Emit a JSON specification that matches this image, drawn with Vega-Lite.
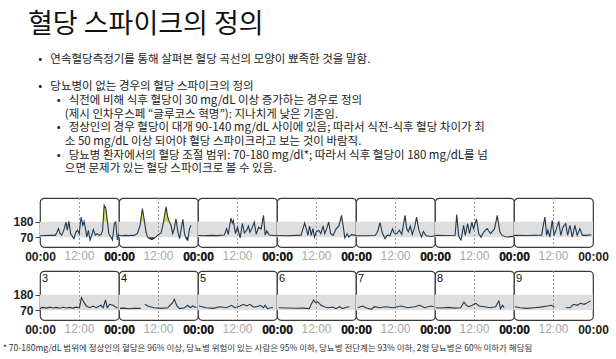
{
  "$schema": "https://vega.github.io/schema/vega-lite/v6.json",
  "background": "white",
  "padding": {"left": 3, "top": 10, "right": 5, "bottom": 5},
  "autosize": {"type": "pad"},
  "config": {
    "view": {"stroke": "#3a3a3a", "strokeWidth": 1.2, "cornerRadius": 4, "fill": "white"},
    "font": "Liberation Sans",
    "header": {"labels": false, "title": null, "labelPadding": 0, "titlePadding": 0}
  },
  "title": {
    "text": "혈당 스파이크의 정의",
    "subtitle": [
      "\u200b\u2002\u2009\u2009•\u2002\u2009연속혈당측정기를 통해 살펴본 혈당 곡선의 모양이 뾰족한 것을 말함.",
      "\u200b",
      "\u200b\u2002\u2009\u2009•\u2002\u2009당뇨병이 없는 경우의 혈당 스파이크의 정의",
      "\u200b\u2003\u2003\u2002•\u2002\u2009식전에 비해 식후 혈당이 30 mg/dL 이상 증가하는 경우로 정의",
      "\u200b\u2003\u2003\u2003\u2009(제시 인차우스페 \u201c글루코스 혁명\u201d): 지나치게 낮은 기준임.",
      "\u200b\u2003\u2003\u2002•\u2002\u2009정상인의 경우 혈당이 대개 90-140 mg/dL 사이에 있음; 따라서 식전-식후 혈당 차이가 최",
      "\u200b\u2003\u2003\u2003\u2009소 50 mg/dL 이상 되어야 혈당 스파이크라고 보는 것이 바람직.",
      "\u200b\u2003\u2003\u2002•\u2002\u2009당뇨병 환자에서의 혈당 조절 범위: 70-180 mg/dl*; 따라서 식후 혈당이 180 mg/dL를 넘",
      "\u200b\u2003\u2003\u2003\u2009으면 문제가 있는 혈당 스파이크로 볼 수 있음."
    ],
    "anchor": "start",
    "frame": "group",
    "dx": -12,
    "font": "Noto Sans CJK KR",
    "fontSize": 27,
    "fontWeight": "normal",
    "color": "#111111",
    "subtitleFont": "Noto Sans CJK KR",
    "subtitleFontSize": 11.5,
    "subtitleColor": "#222222",
    "subtitleLineHeight": 13.7,
    "subtitlePadding": 15,
    "offset": 21
  },
  "datasets": {
    "r1": [
      {"p":1,"h":0,"g":80},{"p":1,"h":1.5,"g":82},{"p":1,"h":3,"g":84},{"p":1,"h":4.6,"g":83},{"p":1,"h":5.1,"g":102},{"p":1,"h":5.6,"g":131},{"p":1,"h":6.1,"g":95},{"p":1,"h":6.6,"g":85},{"p":1,"h":7.3,"g":126},{"p":1,"h":7.9,"g":178},{"p":1,"h":8.3,"g":120},{"p":1,"h":8.8,"g":183},{"p":1,"h":9.3,"g":95},{"p":1,"h":9.8,"g":79},{"p":1,"h":10.3,"g":59},{"p":1,"h":10.9,"g":107},{"p":1,"h":11.4,"g":120},{"p":1,"h":11.9,"g":95},{"p":1,"h":12.5,"g":214},{"p":1,"h":13,"g":155},{"p":1,"h":13.4,"g":183},{"p":1,"h":13.9,"g":120},{"p":1,"h":14.2,"g":71},{"p":1,"h":14.7,"g":119},{"p":1,"h":15.2,"g":50},{"p":1,"h":15.7,"g":83},{"p":1,"h":16.2,"g":124},{"p":1,"h":16.8,"g":85},{"p":1,"h":17.4,"g":95},{"p":1,"h":18,"g":85},{"p":1,"h":18.5,"g":88},{"p":1,"h":19,"g":115},{"p":1,"h":19.5,"g":298},{"p":1,"h":20,"g":278},{"p":1,"h":20.5,"g":178},{"p":1,"h":20.9,"g":95},{"p":1,"h":21.5,"g":71},{"p":1,"h":22,"g":50},{"p":1,"h":22.6,"g":167},{"p":1,"h":23,"g":178},{"p":1,"h":23.5,"g":50},{"p":1,"h":23.9,"g":95},
      {"p":2,"h":0,"g":82},{"p":2,"h":1,"g":80},{"p":2,"h":2,"g":83},{"p":2,"h":3,"g":81},{"p":2,"h":4,"g":84},{"p":2,"h":4.6,"g":83},{"p":2,"h":5.6,"g":97},{"p":2,"h":6.4,"g":155},{"p":2,"h":7.1,"g":274},{"p":2,"h":7.7,"g":190},{"p":2,"h":8.2,"g":107},{"p":2,"h":8.7,"g":71},{"p":2,"h":9.4,"g":59},{"p":2,"h":10,"g":52},{"p":2,"h":10.7,"g":62},{"p":2,"h":11.7,"g":83},{"p":2,"h":12.8,"g":100},{"p":2,"h":13.5,"g":178},{"p":2,"h":14.3,"g":286},{"p":2,"h":14.8,"g":214},{"p":2,"h":15.3,"g":178},{"p":2,"h":15.8,"g":155},{"p":2,"h":16.3,"g":95},{"p":2,"h":16.8,"g":130},{"p":2,"h":17.3,"g":202},{"p":2,"h":17.9,"g":107},{"p":2,"h":18.4,"g":59},{"p":2,"h":18.9,"g":130},{"p":2,"h":19.4,"g":197},{"p":2,"h":19.9,"g":95},{"p":2,"h":20.4,"g":59},{"p":2,"h":20.9,"g":47},{"p":2,"h":21.4,"g":130},{"p":2,"h":21.9,"g":155},
      {"p":3,"h":0,"g":82},{"p":3,"h":2,"g":80},{"p":3,"h":4,"g":83},{"p":3,"h":6,"g":81},{"p":3,"h":8,"g":85},{"p":3,"h":8.7,"g":131},{"p":3,"h":9.2,"g":90},{"p":3,"h":10,"g":207},{"p":3,"h":10.4,"g":170},{"p":3,"h":10.7,"g":190},{"p":3,"h":11.4,"g":95},{"p":3,"h":12,"g":140},{"p":3,"h":12.8,"g":65},{"p":3,"h":13.5,"g":168},{"p":3,"h":14.1,"g":100},{"p":3,"h":14.8,"g":120},{"p":3,"h":15.3,"g":150},{"p":3,"h":15.8,"g":105},{"p":3,"h":16.5,"g":140},{"p":3,"h":17.1,"g":178},{"p":3,"h":17.7,"g":90},{"p":3,"h":18.4,"g":140},{"p":3,"h":19.2,"g":130},{"p":3,"h":19.9,"g":226},{"p":3,"h":20.4,"g":85},{"p":3,"h":20.9,"g":115},{"p":3,"h":21.6,"g":85},{"p":3,"h":23,"g":82},{"p":3,"h":24,"g":80},
      {"p":4,"h":0,"g":82},{"p":4,"h":3,"g":80},{"p":4,"h":6,"g":83},{"p":4,"h":7.3,"g":84},{"p":4,"h":7.9,"g":131},{"p":4,"h":8.4,"g":171},{"p":4,"h":8.9,"g":131},{"p":4,"h":9.4,"g":83},{"p":4,"h":9.9,"g":150},{"p":4,"h":10.4,"g":83},{"p":4,"h":10.9,"g":131},{"p":4,"h":11.4,"g":71},{"p":4,"h":11.9,"g":107},{"p":4,"h":12.7,"g":119},{"p":4,"h":13.3,"g":95},{"p":4,"h":14,"g":150},{"p":4,"h":14.5,"g":95},{"p":4,"h":15.1,"g":131},{"p":4,"h":15.7,"g":178},{"p":4,"h":16.3,"g":95},{"p":4,"h":17,"g":83},{"p":4,"h":18,"g":131},{"p":4,"h":18.8,"g":150},{"p":4,"h":19.6,"g":226},{"p":4,"h":20.1,"g":150},{"p":4,"h":20.6,"g":65},{"p":4,"h":21.3,"g":94},{"p":4,"h":21.8,"g":71},{"p":4,"h":22.6,"g":88},{"p":4,"h":24,"g":83},
      {"p":5,"h":0,"g":80},{"p":5,"h":3.2,"g":80},{"p":5,"h":5.8,"g":82},{"p":5,"h":6.6,"g":110},{"p":5,"h":7.3,"g":175},{"p":5,"h":8,"g":100},{"p":5,"h":8.8,"g":60},{"p":5,"h":9.5,"g":85},{"p":5,"h":10.3,"g":80},{"p":5,"h":11.1,"g":130},{"p":5,"h":11.6,"g":100},{"p":5,"h":12.4,"g":95},{"p":5,"h":13.2,"g":120},{"p":5,"h":13.9,"g":90},{"p":5,"h":14.9,"g":226},{"p":5,"h":15.4,"g":130},{"p":5,"h":15.9,"g":110},{"p":5,"h":16.5,"g":150},{"p":5,"h":17.1,"g":90},{"p":5,"h":17.8,"g":140},{"p":5,"h":18.4,"g":214},{"p":5,"h":19.1,"g":120},{"p":5,"h":19.9,"g":70},{"p":5,"h":20.5,"g":110},{"p":5,"h":21.3,"g":80},{"p":5,"h":23,"g":75},{"p":5,"h":24,"g":80},
      {"p":6,"h":0,"g":83},{"p":6,"h":3,"g":82},{"p":6,"h":6.1,"g":84},{"p":6,"h":6.6,"g":231},{"p":6,"h":7.2,"g":76},{"p":6,"h":7.9,"g":50},{"p":6,"h":8.7,"g":155},{"p":6,"h":9.2,"g":83},{"p":6,"h":9.9,"g":167},{"p":6,"h":10.5,"g":95},{"p":6,"h":11.2,"g":178},{"p":6,"h":11.7,"g":131},{"p":6,"h":12.6,"g":200},{"p":6,"h":13.3,"g":95},{"p":6,"h":14,"g":71},{"p":6,"h":14.8,"g":107},{"p":6,"h":15.8,"g":131},{"p":6,"h":16.9,"g":95},{"p":6,"h":18.1,"g":131},{"p":6,"h":18.9,"g":226},{"p":6,"h":19.7,"g":107},{"p":6,"h":20.4,"g":83},{"p":6,"h":21.5,"g":71},{"p":6,"h":24,"g":76},
      {"p":7,"h":0,"g":83},{"p":7,"h":4,"g":82},{"p":7,"h":8.4,"g":85},{"p":7,"h":8.9,"g":155},{"p":7,"h":9.4,"g":214},{"p":7,"h":9.9,"g":83},{"p":7,"h":10.3,"g":120},{"p":7,"h":10.9,"g":71},{"p":7,"h":11.6,"g":190},{"p":7,"h":12.2,"g":83},{"p":7,"h":12.9,"g":131},{"p":7,"h":13.6,"g":183},{"p":7,"h":14.2,"g":83},{"p":7,"h":14.9,"g":143},{"p":7,"h":15.7,"g":167},{"p":7,"h":16.3,"g":83},{"p":7,"h":17,"g":155},{"p":7,"h":17.7,"g":71},{"p":7,"h":18.5,"g":155},{"p":7,"h":19.2,"g":83},{"p":7,"h":20,"g":131},{"p":7,"h":20.8,"g":83},{"p":7,"h":22,"g":83},{"p":7,"h":23.5,"g":88},
      {"p":1,"h":12.33,"hi":180},{"p":1,"h":12.5,"hi":214},{"p":1,"h":12.79,"hi":180},{"p":1,"h":19.18,"hi":180},{"p":1,"h":19.5,"hi":298},{"p":1,"h":20,"hi":278},{"p":1,"h":20.49,"hi":180},
      {"p":2,"h":6.55,"hi":180},{"p":2,"h":7.1,"hi":274},{"p":2,"h":7.7,"hi":190},{"p":2,"h":7.76,"hi":180},{"p":2,"h":13.51,"hi":180},{"p":2,"h":14.3,"hi":286},{"p":2,"h":14.8,"hi":214},{"p":2,"h":15.27,"hi":180},
      {"p":4,"h":19.11,"hi":180},{"p":4,"h":19.6,"hi":226},{"p":4,"h":19.9,"hi":180},
      {"p":5,"h":14.56,"hi":180},{"p":5,"h":14.9,"hi":226},{"p":5,"h":15.14,"hi":180},
      {"p":6,"h":18.51,"hi":180},{"p":6,"h":18.9,"hi":226},{"p":6,"h":19.21,"hi":180},
      {"p":2,"h":8.76,"lo":70},{"p":2,"h":9.4,"lo":59},{"p":2,"h":10,"lo":52},{"p":2,"h":10.7,"lo":62},{"p":2,"h":11.08,"lo":70},{"p":2,"h":20.25,"lo":70},{"p":2,"h":20.4,"lo":59},{"p":2,"h":20.9,"lo":47},{"p":2,"h":21.04,"lo":70}
    ],
    "r2": [
      {"p":8,"h":0,"g":76},{"p":8,"h":0.3,"g":88},{"p":8,"h":1,"g":90},{"p":8,"h":2,"g":85},{"p":8,"h":3,"g":92},{"p":8,"h":4,"g":86},{"p":8,"h":5,"g":90},{"p":8,"h":6,"g":84},{"p":8,"h":7,"g":91},{"p":8,"h":8,"g":86},{"p":8,"h":9,"g":90},{"p":8,"h":10,"g":85},{"p":8,"h":11,"g":92},{"p":8,"h":12,"g":88},{"p":8,"h":12.6,"g":160},{"p":8,"h":13.4,"g":124},{"p":8,"h":14.1,"g":100},{"p":8,"h":15.1,"g":88},{"p":8,"h":16.1,"g":100},{"p":8,"h":17.1,"g":88},{"p":8,"h":18.5,"g":105},{"p":8,"h":19.2,"g":88},{"p":8,"h":19.9,"g":143},{"p":8,"h":20.4,"g":88},{"p":8,"h":21.2,"g":112},{"p":8,"h":22.2,"g":105},{"p":8,"h":23.3,"g":88},{"p":8,"h":23.6,"g":86},
      {"p":9,"h":0.3,"g":83},{"p":9,"h":1.5,"g":85},{"p":9,"h":3,"g":80},{"p":9,"h":4.5,"g":84},{"p":9,"h":6.6,"g":83},{"p":9,"h":7.2,"g":null},{"p":9,"h":7.9,"g":112},{"p":9,"h":8.7,"g":100},{"p":9,"h":10.7,"g":88},{"p":9,"h":12.8,"g":83},{"p":9,"h":14.8,"g":88},{"p":9,"h":16.3,"g":124},{"p":9,"h":16.8,"g":148},{"p":9,"h":17.6,"g":100},{"p":9,"h":18.4,"g":81},{"p":9,"h":19.9,"g":88},{"p":9,"h":20.9,"g":105},{"p":9,"h":21.7,"g":88},{"p":9,"h":22.4,"g":100},{"p":9,"h":23.5,"g":88},
      {"p":10,"h":0.3,"g":100},{"p":10,"h":2.5,"g":88},{"p":10,"h":4.6,"g":83},{"p":10,"h":6.6,"g":95},{"p":10,"h":8.7,"g":88},{"p":10,"h":10.2,"g":105},{"p":10,"h":11.2,"g":88},{"p":10,"h":12.8,"g":100},{"p":10,"h":13.8,"g":112},{"p":10,"h":14.8,"g":100},{"p":10,"h":15.8,"g":112},{"p":10,"h":16.8,"g":93},{"p":10,"h":17.9,"g":95},{"p":10,"h":18.9,"g":105},{"p":10,"h":19.9,"g":88},{"p":10,"h":20.4,"g":105},{"p":10,"h":21.1,"g":81},{"p":10,"h":22,"g":88},{"p":10,"h":22.8,"g":88},
      {"p":11,"h":0.5,"g":88},{"p":11,"h":3,"g":86},{"p":11,"h":6,"g":84},{"p":11,"h":8,"g":85},{"p":11,"h":9.8,"g":81},{"p":11,"h":10.4,"g":112},{"p":11,"h":11.1,"g":143},{"p":11,"h":11.7,"g":124},{"p":11,"h":12.4,"g":129},{"p":11,"h":13.4,"g":105},{"p":11,"h":14.4,"g":95},{"p":11,"h":15.4,"g":88},{"p":11,"h":16.9,"g":92},{"p":11,"h":17.9,"g":81},{"p":11,"h":19,"g":95},{"p":11,"h":20,"g":81},{"p":11,"h":21,"g":91},{"p":11,"h":22,"g":95},
      {"p":12,"h":0.5,"g":88},{"p":12,"h":2,"g":100},{"p":12,"h":3,"g":88},{"p":12,"h":4.6,"g":76},{"p":12,"h":5.6,"g":95},{"p":12,"h":7.1,"g":88},{"p":12,"h":9.1,"g":95},{"p":12,"h":11.2,"g":88},{"p":12,"h":13.7,"g":100},{"p":12,"h":15.7,"g":88},{"p":12,"h":17.8,"g":95},{"p":12,"h":19.3,"g":105},{"p":12,"h":20.8,"g":88},{"p":12,"h":22.8,"g":100},{"p":12,"h":23.6,"g":95},
      {"p":13,"h":0.2,"g":88},{"p":13,"h":2,"g":86},{"p":13,"h":4,"g":90},{"p":13,"h":6,"g":85},{"p":13,"h":7.8,"g":88},{"p":13,"h":8.8,"g":129},{"p":13,"h":9.5,"g":105},{"p":13,"h":10.3,"g":95},{"p":13,"h":11.3,"g":105},{"p":13,"h":12.4,"g":119},{"p":13,"h":13.4,"g":100},{"p":13,"h":14.9,"g":95},{"p":13,"h":16.9,"g":88},{"p":13,"h":18.4,"g":95},{"p":13,"h":19.4,"g":136},{"p":13,"h":19.9,"g":81},{"p":13,"h":20.5,"g":105},{"p":13,"h":21,"g":88},
      {"p":14,"h":0.2,"g":95},{"p":14,"h":1.8,"g":88},{"p":14,"h":3.9,"g":83},{"p":14,"h":6,"g":88},{"p":14,"h":8.1,"g":92},{"p":14,"h":10.2,"g":100},{"p":14,"h":11.2,"g":105},{"p":14,"h":12.3,"g":95},{"p":14,"h":14,"g":null},{"p":14,"h":15.7,"g":88},{"p":14,"h":17,"g":88},{"p":14,"h":18.1,"g":112},{"p":14,"h":19.2,"g":105},{"p":14,"h":20.2,"g":119},{"p":14,"h":21.3,"g":112},{"p":14,"h":22.3,"g":124},{"p":14,"h":23.2,"g":136},
      {"p":8,"lab":"3"},{"p":9,"lab":"4"},{"p":10,"lab":"5"},{"p":11,"lab":"6"},{"p":12,"lab":"7"},{"p":13,"lab":"8"},{"p":14,"lab":"9"}
    ]
  },
  "vconcat": [
    {
      "data": {"name": "r1"},
      "facet": {"column": {"field": "p", "type": "ordinal", "header": {"labels": false, "title": null, "labelPadding": 0, "titlePadding": 0}}},
      "spacing": 0,
      "bounds": "flush",
      "spec": {
        "width": 79,
        "height": 49,
        "layer": [
          {
            "transform": [{"aggregate": [{"op": "count", "as": "n"}], "groupby": ["p"]}],
            "mark": {"type": "rect", "color": "#dedede"},
            "encoding": {"y": {"datum": 70, "type": "quantitative"}, "y2": {"datum": 180}}
          },
          {
            "transform": [{"aggregate": [{"op": "count", "as": "n"}], "groupby": ["p"]}],
            "mark": {"type": "rule", "color": "#9a9a9a", "strokeDash": [2, 2], "strokeWidth": 1},
            "encoding": {"x": {"datum": 12, "type": "quantitative"}}
          },
          {
            "transform": [{"aggregate": [{"op": "count", "as": "n"}], "groupby": ["p"]}],
            "mark": {"type": "text", "text": "12:00", "align": "center", "baseline": "top", "dy": 4, "fontSize": 12, "font": "Liberation Sans", "color": "#a8a8a8"},
            "encoding": {"x": {"datum": 12, "type": "quantitative"}, "y": {"datum": 0, "type": "quantitative"}}
          },
          {
            "transform": [{"filter": "datum.hi != null"}],
            "mark": {"type": "area", "color": "#d6dc3a"},
            "encoding": {"x": {"field": "h", "type": "quantitative"}, "y": {"field": "hi", "type": "quantitative"}, "y2": {"datum": 180}}
          },
          {
            "transform": [{"filter": "datum.lo != null"}],
            "mark": {"type": "area", "color": "#6e1b2e"},
            "encoding": {"x": {"field": "h", "type": "quantitative"}, "y": {"field": "lo", "type": "quantitative"}, "y2": {"datum": 70}}
          },
          {
            "transform": [{"filter": "datum.hi == null && datum.lo == null"}],
            "mark": {"type": "line", "color": "#1f3a52", "strokeWidth": 1.1},
            "encoding": {
              "x": {
                "field": "h", "type": "quantitative",
                "scale": {"domain": [0, 24], "nice": false, "zero": false},
                "axis": {
                  "values": [0, 24], "labelExpr": "'00:00'",
                  "labelFlush": false, "ticks": false, "domain": false, "title": null, "grid": false,
                  "labelColor": "#1e1e1e", "labelFontWeight": "bold",
                  "labelFontSize": 12, "labelFont": "Liberation Sans", "labelPadding": 4, "labelOverlap": false
                }
              },
              "y": {
                "field": "g", "type": "quantitative",
                "scale": {"domain": [0, 350], "nice": false, "zero": false},
                "axis": {
                  "values": [70, 180], "title": null, "grid": false, "domain": false, "ticks": true, "tickSize": 5, "tickColor": "#444444",
                  "labelFontWeight": "bold", "labelFontSize": 12, "labelFont": "Liberation Sans", "labelColor": "#1e1e1e", "labelPadding": 2
                }
              }
            }
          }
        ]
      }
    },
    {
      "title": {
        "text": "* 70-180mg/dL 범위에 정상인의 혈당은 96% 이상, 당뇨병 위험이 있는 사람은 95% 이하, 당뇨병 전단계는 93% 이하, 2형 당뇨병은 60% 이하가 해당됨",
        "orient": "bottom", "anchor": "start", "frame": "group", "dx": -37, "offset": 8,
        "font": "Noto Sans CJK KR", "fontSize": 8.5, "fontWeight": "normal", "color": "#333333"
      },
      "data": {"name": "r2"},
      "facet": {"column": {"field": "p", "type": "ordinal", "header": {"labels": false, "title": null, "labelPadding": 0, "titlePadding": 0}}},
      "spacing": 0,
      "bounds": "flush",
      "spec": {
        "width": 79,
        "height": 49,
        "layer": [
          {
            "transform": [{"aggregate": [{"op": "count", "as": "n"}], "groupby": ["p"]}],
            "mark": {"type": "rect", "color": "#dedede"},
            "encoding": {"y": {"datum": 70, "type": "quantitative"}, "y2": {"datum": 180}}
          },
          {
            "transform": [{"aggregate": [{"op": "count", "as": "n"}], "groupby": ["p"]}],
            "mark": {"type": "rule", "color": "#9a9a9a", "strokeDash": [2, 2], "strokeWidth": 1},
            "encoding": {"x": {"datum": 12, "type": "quantitative"}}
          },
          {
            "transform": [{"aggregate": [{"op": "count", "as": "n"}], "groupby": ["p"]}],
            "mark": {"type": "text", "text": "12:00", "align": "center", "baseline": "top", "dy": 4, "fontSize": 12, "font": "Liberation Sans", "color": "#a8a8a8"},
            "encoding": {"x": {"datum": 12, "type": "quantitative"}, "y": {"datum": 0, "type": "quantitative"}}
          },
          {
            "transform": [{"filter": "datum.lab == null"}],
            "mark": {"type": "line", "color": "#1f3a52", "strokeWidth": 1.1},
            "encoding": {
              "x": {
                "field": "h", "type": "quantitative",
                "scale": {"domain": [0, 24], "nice": false, "zero": false},
                "axis": {
                  "values": [0, 24], "labelExpr": "'00:00'",
                  "labelFlush": false, "ticks": false, "domain": false, "title": null, "grid": false,
                  "labelColor": "#1e1e1e", "labelFontWeight": "bold",
                  "labelFontSize": 12, "labelFont": "Liberation Sans", "labelPadding": 4, "labelOverlap": false
                }
              },
              "y": {
                "field": "g", "type": "quantitative",
                "scale": {"domain": [0, 350], "nice": false, "zero": false},
                "axis": {
                  "values": [70, 180], "title": null, "grid": false, "domain": false, "ticks": true, "tickSize": 5, "tickColor": "#444444",
                  "labelFontWeight": "bold", "labelFontSize": 12, "labelFont": "Liberation Sans", "labelColor": "#1e1e1e", "labelPadding": 2
                }
              }
            }
          },
          {
            "transform": [{"filter": "datum.lab != null"}],
            "mark": {"type": "text", "align": "left", "baseline": "top", "dx": 2, "dy": 2, "fontSize": 11, "font": "Liberation Sans", "color": "#111111"},
            "encoding": {
              "text": {"field": "lab"},
              "x": {"datum": 0, "type": "quantitative"},
              "y": {"datum": 350, "type": "quantitative"}
            }
          }
        ]
      }
    }
  ],
  "spacing": 6
}
